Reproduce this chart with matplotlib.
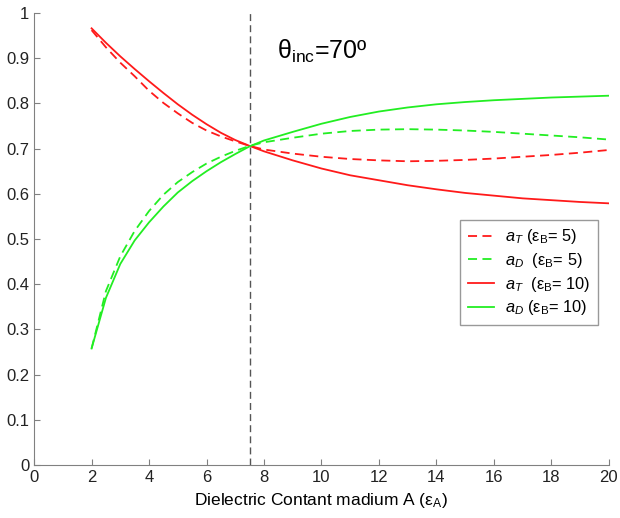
#!/usr/bin/env python3

import matplotlib
matplotlib.use("Agg")
import matplotlib.pyplot as plt

plt.rcParams['font.family'] = ['Liberation Sans', 'DejaVu Sans']
plt.rcParams['mathtext.fontset'] = 'custom'
plt.rcParams['mathtext.rm'] = 'Liberation Sans'
plt.rcParams['mathtext.it'] = 'Liberation Sans:italic'

# dielectric constant of medium A
eps_a = [2, 2.5, 3, 3.5, 4, 4.5, 5, 5.5, 6, 6.5, 7, 7.5, 8, 9, 10,
         11, 12, 13, 14, 15, 16, 17, 18, 19, 20]

# eps_B = 5 (dashed)
aT_5 = [0.962, 0.924, 0.890, 0.860, 0.828, 0.801, 0.778, 0.757, 0.740, 0.727,
        0.716, 0.706, 0.698, 0.689, 0.682, 0.677, 0.674, 0.672, 0.673, 0.675,
        0.678, 0.682, 0.686, 0.691, 0.697]
aD_5 = [0.258, 0.385, 0.462, 0.518, 0.562, 0.598, 0.626, 0.648, 0.667, 0.682,
        0.695, 0.706, 0.714, 0.724, 0.733, 0.739, 0.742, 0.743, 0.742, 0.740,
        0.737, 0.733, 0.729, 0.725, 0.720]

# eps_B = 10 (solid)
aT_10 = [0.966, 0.934, 0.904, 0.876, 0.849, 0.823, 0.798, 0.775, 0.754, 0.735,
         0.719, 0.706, 0.694, 0.674, 0.656, 0.641, 0.630, 0.619, 0.610, 0.602,
         0.596, 0.590, 0.586, 0.582, 0.579]
aD_10 = [0.258, 0.370, 0.445, 0.497, 0.537, 0.572, 0.603, 0.628, 0.650, 0.670,
         0.688, 0.705, 0.718, 0.737, 0.755, 0.770, 0.782, 0.791, 0.798, 0.803,
         0.807, 0.810, 0.813, 0.815, 0.817]

theta_inc = 70
eps_crit = 7.5

fig = plt.figure(figsize=(6.2, 5.18), dpi=100)
ax = fig.add_axes([0.055, 0.102, 0.927, 0.873])

red = '#ff1a1a'
green = '#22ee22'
lw = 1.3
ax.plot(eps_a, aT_5, '--', color=red, lw=lw, dashes=(5, 3),
        label=r'$a_T$ (ε$_{\mathrm{B}}$= 5)')
ax.plot(eps_a, aD_5, '--', color=green, lw=lw, dashes=(5, 3),
        label=r'$a_D$  (ε$_{\mathrm{B}}$= 5)')
ax.plot(eps_a, aT_10, '-', color=red, lw=lw,
        label=r'$a_T$  (ε$_{\mathrm{B}}$= 10)')
ax.plot(eps_a, aD_10, '-', color=green, lw=lw,
        label=r'$a_D$ (ε$_{\mathrm{B}}$= 10)')

ax.axvline(eps_crit, color='#555555', lw=1.0, dashes=(5, 3))

ax.text(8.45, 0.915, r'θ$_{\mathrm{inc}}$=%dº' % theta_inc, fontsize=18,
        va='center', ha='left')

ax.set_xlim(0, 20)
ax.set_ylim(0, 1)
ax.set_xticks(range(0, 21, 2))
ax.set_yticks([i / 10 for i in range(11)])
ax.set_yticklabels(['0', '0.1', '0.2', '0.3', '0.4', '0.5', '0.6',
                    '0.7', '0.8', '0.9', '1'])
ax.tick_params(direction='in', length=4, labelsize=12, colors='#222222')
ax.tick_params(axis='both', color='#808080')
for s in ['top', 'right']:
    ax.spines[s].set_visible(False)
for s in ['left', 'bottom']:
    ax.spines[s].set_color('#808080')

ax.set_xlabel(r'Dielectric Contant madium A (ε$_{\mathrm{A}}$)', fontsize=12.5)

leg = ax.legend(loc='upper left', bbox_to_anchor=(0.727, 0.56), fontsize=11.8,
                frameon=True, fancybox=False, edgecolor='#808080',
                handlelength=1.6, handletextpad=0.7, borderpad=0.45,
                labelspacing=0.28)
leg.get_frame().set_linewidth(1.0)

plt.savefig('out.png', dpi=100)
